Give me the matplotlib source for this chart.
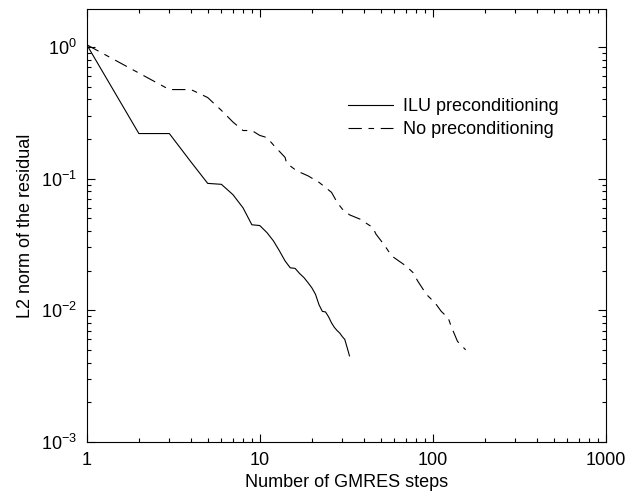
import matplotlib
matplotlib.use("Agg")
import matplotlib.pyplot as plt
from matplotlib.ticker import LogLocator, FixedLocator, FixedFormatter, NullFormatter

plt.rcParams['font.family'] = ['Liberation Sans', 'DejaVu Sans']
plt.rcParams['mathtext.fontset'] = 'custom'
plt.rcParams['mathtext.rm'] = 'Liberation Sans'
plt.rcParams['mathtext.default'] = 'regular'

# GMRES residual history with ILU preconditioning (one value per step)
ilu_steps = list(range(1, 34))
ilu_resid = [1.04, 0.22, 0.22, 0.134, 0.092, 0.0905, 0.0755, 0.060, 0.0446, 0.044,
             0.0389, 0.0336, 0.0282, 0.0237, 0.021, 0.0208, 0.019, 0.0177, 0.0162, 0.0148,
             0.0132, 0.011, 0.0098, 0.0097, 0.0089, 0.008, 0.0074, 0.007, 0.0067, 0.0063,
             0.006, 0.0052, 0.0045]

# GMRES residual history without preconditioning
noprec_steps = [1, 3, 4, 5, 6, 7, 8, 9, 10, 11, 12, 14, 14.3, 16, 17, 19, 22, 26, 28, 30,
                33, 38, 45, 47, 52, 58, 63, 70, 77, 82, 88, 94, 103, 112, 123, 128, 139, 155]
noprec_resid = [1.04, 0.475, 0.475, 0.413, 0.330, 0.269, 0.232, 0.232, 0.213, 0.205,
                0.180, 0.145, 0.131, 0.117, 0.112, 0.105, 0.0937, 0.0786, 0.066, 0.0587,
                0.0531, 0.0492, 0.0425, 0.0378, 0.0318, 0.0258, 0.0239, 0.0217, 0.0193, 0.0166,
                0.0144, 0.0128, 0.0114, 0.0098, 0.0087, 0.0075, 0.0058, 0.0050]

x_ticks = [1, 10, 100, 1000]
x_ticklabels = ['1', '10', '100', '1000']
y_ticks = [1e-3, 1e-2, 1e-1, 1e0]
y_ticklabels = [r'$10^{-3}$', r'$10^{-2}$', r'$10^{-1}$', r'$10^{0}$']

fig = plt.figure(figsize=(6.29, 4.92), dpi=100)
ax = fig.add_axes([0.138, 0.102, 0.825, 0.880])

ax.plot(ilu_steps, ilu_resid, color='black', lw=0.8, label='ILU preconditioning')
ax.plot(noprec_steps, noprec_resid, color='black', lw=0.8,
        dashes=(12, 6, 5, 6), label='No preconditioning')

ax.set_xscale('log')
ax.set_yscale('log')
ax.set_xlim(1, 1000)
ax.set_ylim(1e-3, 1.95)

ax.xaxis.set_major_locator(FixedLocator(x_ticks))
ax.xaxis.set_major_formatter(FixedFormatter(x_ticklabels))
ax.xaxis.set_minor_locator(LogLocator(base=10, subs=range(2, 10)))
ax.xaxis.set_minor_formatter(NullFormatter())
ax.yaxis.set_major_locator(FixedLocator(y_ticks))
ax.yaxis.set_major_formatter(FixedFormatter(y_ticklabels))
ax.yaxis.set_minor_locator(LogLocator(base=10, subs=range(2, 10)))
ax.yaxis.set_minor_formatter(NullFormatter())

ax.tick_params(which='both', direction='in', top=True, right=True, width=0.8,
               labelsize=13, colors='black')
ax.tick_params(which='major', length=6, pad=7)
ax.tick_params(which='minor', length=3)
for s in ax.spines.values():
    s.set_linewidth(0.8)

ax.set_xlabel('Number of GMRES steps', fontsize=13, labelpad=4)
ax.set_ylabel('L2 norm of the residual', fontsize=13, labelpad=5)

ax.legend(loc='upper left', bbox_to_anchor=(0.49, 0.81), frameon=False,
          fontsize=13, handlelength=2.45, handletextpad=0.6, labelspacing=0.32,
          borderaxespad=0)

fig.savefig('out.png', dpi=100)
